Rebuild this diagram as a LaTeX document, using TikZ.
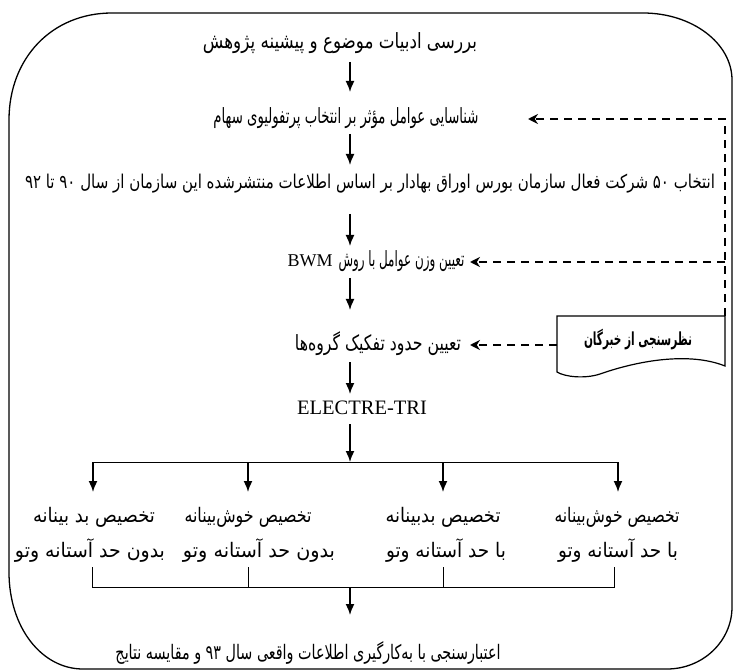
\documentclass[tikz,border=0pt]{standalone}
\usepackage{fontspec}
\setmainfont{Liberation Serif}
\newfontfamily\fa[Script=Arabic]{DejaVu Sans}
\TeXXeTstate=1
\usetikzlibrary{arrows.meta}
% #1 font size, #2 target width, #3 text
\newcommand\faw[3]{\resizebox{#2}{\height}{\fontsize{#1}{#1}\selectfont\fa #3}}
\newcommand\fawb[3]{\resizebox{#2}{\height}{\fontsize{#1}{#1}\selectfont\fa\bfseries #3}}
\begin{document}
\begin{tikzpicture}[x=1pt,y=-1pt,
  lbl/.style={inner sep=0pt,outer sep=0pt,anchor=center},
  main/.style={line width=1.6pt,-{Latex[length=11pt,width=9pt]}},
  brk/.style={line width=1pt},
  dsh/.style={line width=1.6pt,dash pattern=on 8pt off 6pt,-{Stealth[length=10pt,width=10pt]}},
  border/.style={line width=1.3pt}]
\useasboundingbox (0,0) rectangle (734,671);
% outer rounded frame
\draw[border] (112,13) -- (643,13) .. controls (692,13) and (732,43) .. (732,80)
  -- (732,607) .. controls (732,641) and (703,669) .. (667,669)
  -- (83,669) .. controls (42,669) and (9,628) .. (9,572)
  -- (9,120) .. controls (9,58) and (52,13) .. cycle;
% main column
\node[lbl] (t1) at (340,43) {\faw{21pt}{274pt}{\beginR بررسی ادبیات موضوع و پیشینه پژوهش\endR}};
\node[lbl] (t2) at (346,118) {\faw{21pt}{265pt}{\beginR شناسایی عوامل مؤثر بر انتخاب پرتفولیوی سهام\endR}};
\node[lbl] (t3) at (370,184) {\faw{19pt}{690pt}{\beginR انتخاب ۵۰ شرکت فعال سازمان بورس اوراق بهادار بر اساس اطلاعات منتشرشده این سازمان از سال ۹۰ تا ۹۲\endR}};
\node[lbl] (t4) at (376,261) {{\fontsize{18pt}{18pt}\selectfont BWM}\hspace{6pt}\faw{21pt}{126pt}{\beginR تعیین وزن عوامل با روش\endR}};
\node[lbl] (t5) at (378,344) {\faw{21pt}{166pt}{\beginR تعیین حدود تفکیک گروه‌ها\endR}};
\node[lbl,font=\fontsize{20.5}{22}\selectfont] (t6) at (362,408) {ELECTRE-TRI};
\coordinate (a1s) at (350,62); \coordinate (a1e) at (350,92);
\coordinate (a2s) at (350,134); \coordinate (a2e) at (350,165);
\coordinate (a3s) at (350,214); \coordinate (a3e) at (350,246);
\coordinate (a4s) at (350,278); \coordinate (a4e) at (350,310);
\coordinate (a5s) at (350,362); \coordinate (a5e) at (350,394);
\draw[main] (a1s) -- (a1e);
\draw[main] (a2s) -- (a2e);
\draw[main] (a3s) -- (a3e);
\draw[main] (a4s) -- (a4e);
\draw[main] (a5s) -- (a5e);
% branch
\coordinate (b0) at (350,424); \coordinate (bc) at (350,462);
\coordinate (bl1) at (93,462); \coordinate (bl2) at (248,462);
\coordinate (bl3) at (443,462); \coordinate (bl4) at (618,462);
\coordinate (e1) at (93,492); \coordinate (e2) at (248,492);
\coordinate (e3) at (443,492); \coordinate (e4) at (618,492);
\draw[main] (b0) -- (bc);
\draw[brk] (bl1) -- (bl4);
\draw[main] (bl1) -- (e1);
\draw[main] (bl2) -- (e2);
\draw[main] (bl3) -- (e3);
\draw[main] (bl4) -- (e4);
\node[lbl] (r1a) at (94,517) {\faw{20pt}{122pt}{\beginR تخصیص بد بینانه\endR}};
\node[lbl] (r1b) at (248,517) {\faw{20pt}{127pt}{\beginR تخصیص خوش‌بینانه\endR}};
\node[lbl] (r1c) at (443,517) {\faw{20pt}{115pt}{\beginR تخصیص بدبینانه\endR}};
\node[lbl] (r1d) at (617,517) {\faw{20pt}{125pt}{\beginR تخصیص خوش‌بینانه\endR}};
\node[lbl] (r2a) at (90,551) {\faw{20pt}{150pt}{\beginR بدون حد آستانه وتو\endR}};
\node[lbl] (r2b) at (259,551) {\faw{20pt}{152pt}{\beginR بدون حد آستانه وتو\endR}};
\node[lbl] (r2c) at (446,551) {\faw{20pt}{120pt}{\beginR با حد آستانه وتو\endR}};
\node[lbl] (r2d) at (618,551) {\faw{20pt}{120pt}{\beginR با حد آستانه وتو\endR}};
\coordinate (c1) at (92,587); \coordinate (c2) at (248,587);
\coordinate (c3) at (443,587); \coordinate (c4) at (614,587);
\coordinate (u1) at (92,567); \coordinate (u2) at (248,567);
\coordinate (u3) at (443,567); \coordinate (u4) at (614,567);
\draw[brk] (u1) -- (c1) -- (c4) -- (u4);
\draw[brk] (u2) -- (c2);
\draw[brk] (u3) -- (c3);
\coordinate (cc) at (350,587); \coordinate (ce) at (350,615);
\draw[main] (cc) -- (ce);
\node[lbl] (t7) at (308,653) {\faw{20pt}{385pt}{\beginR اعتبارسنجی با به‌کارگیری اطلاعات واقعی سال ۹۳ و مقایسه نتایج\endR}};
% expert box
\draw[line width=1.2pt] (557,316) -- (725,316) -- (725,366)
  .. controls (690,352) and (640,360) .. (600,374)
  .. controls (585,379) and (565,377) .. (557,372) -- cycle;
\node[lbl] (ex) at (638,340) {\fawb{18pt}{108pt}{\beginR نظرسنجی از خبرگان\endR}};
\coordinate (bxw) at (557,345);
\coordinate (bxne) at (725,316);
\coordinate (v2) at (725,119); \coordinate (v4) at (725,262);
\coordinate (d2) at (528,119); \coordinate (d4) at (470,262); \coordinate (d5) at (470,345);
\draw[dsh] (bxne) -- (v2) -- (d2);
\draw[dsh] (v4) -- (d4);
\draw[dsh] (bxw) -- (d5);
\end{tikzpicture}
\end{document}
